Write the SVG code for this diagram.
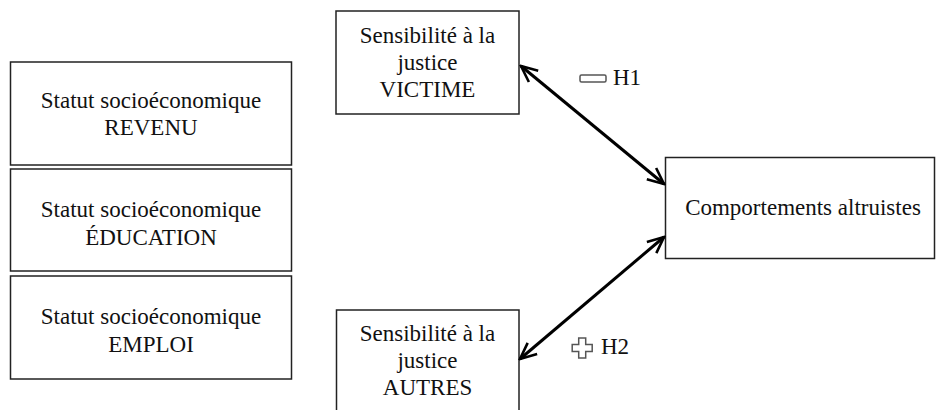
<svg xmlns="http://www.w3.org/2000/svg" width="936" height="410" viewBox="0 0 936 410">
<defs>
<style>
.box{fill:#fff;stroke:#222;stroke-width:1.5}
.t{font-family:"Liberation Serif","Times New Roman",serif;font-size:23px;fill:#111;text-anchor:middle}
.lbl{font-family:"Liberation Serif","Times New Roman",serif;font-size:23px;fill:#111}
.conn{stroke:#000;stroke-width:3;fill:none}
.sym{fill:none;stroke:#555;stroke-width:1.5}
</style>
<marker id="arr" viewBox="0 0 12 12" refX="11" refY="6" markerWidth="6.5" markerHeight="6.5" orient="auto-start-reverse" markerUnits="strokeWidth">
<path d="M1,1.5 L11,6 L1,10.5" fill="none" stroke="#000" stroke-width="1.6" stroke-linejoin="miter"/>
</marker>
</defs>
<rect width="936" height="410" fill="#fff"/>
<g id="revenu">
<rect class="box" x="10.5" y="62" width="281" height="103"/>
<text class="t" x="151" y="108">Statut socioéconomique</text>
<text class="t" x="151" y="135">REVENU</text>
</g>
<g id="education">
<rect class="box" x="10.5" y="169" width="281" height="102"/>
<text class="t" x="151" y="217">Statut socioéconomique</text>
<text class="t" x="151" y="245">ÉDUCATION</text>
</g>
<g id="emploi">
<rect class="box" x="10.5" y="276" width="281" height="103"/>
<text class="t" x="151" y="324">Statut socioéconomique</text>
<text class="t" x="151" y="352">EMPLOI</text>
</g>
<g id="victime">
<rect class="box" x="336" y="11" width="183" height="103"/>
<text class="t" x="427.5" y="43">Sensibilité à la</text>
<text class="t" x="427.5" y="70">justice</text>
<text class="t" x="427.5" y="97">VICTIME</text>
</g>
<g id="autres">
<rect class="box" x="336.5" y="310" width="182.5" height="110"/>
<text class="t" x="427.5" y="341">Sensibilité à la</text>
<text class="t" x="427.5" y="368">justice</text>
<text class="t" x="427.5" y="395">AUTRES</text>
</g>
<g id="altruistes">
<rect class="box" x="665.5" y="157.5" width="269" height="101"/>
<text class="t" x="803" y="215">Comportements altruistes</text>
</g>
<g id="connectors">
<line class="conn" x1="521" y1="66" x2="664" y2="184" marker-start="url(#arr)" marker-end="url(#arr)"/>
<line class="conn" x1="520" y1="359" x2="664" y2="237" marker-start="url(#arr)" marker-end="url(#arr)"/>
</g>
<g id="h1">
<rect class="sym" x="580" y="75" width="26" height="7" rx="1.5"/>
<text class="lbl" x="613" y="85">H1</text>
</g>
<g id="h2">
<path class="sym" d="M578.7,338 h7 v6.5 h6.5 v7 h-6.5 v6.5 h-7 v-6.5 h-6.5 v-7 h6.5 z"/>
<text class="lbl" x="601" y="354">H2</text>
</g>
</svg>
